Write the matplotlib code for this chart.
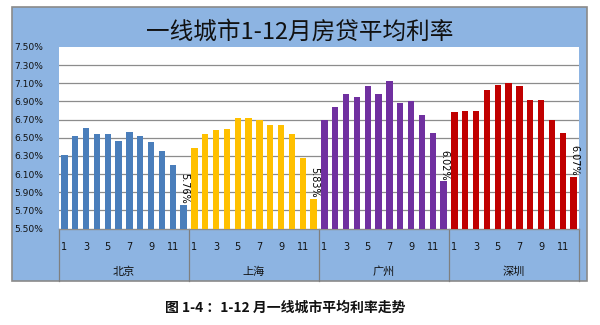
import matplotlib
matplotlib.use("Agg")
import matplotlib.pyplot as plt
from matplotlib.patches import Rectangle
import matplotlib.transforms as mtransforms

plt.rcParams['font.family'] = ['DejaVu Sans', 'Noto Sans CJK SC']

cities = ["北京", "上海", "广州", "深圳"]
months = list(range(1, 13))
beijing = [6.31, 6.52, 6.61, 6.54, 6.54, 6.46, 6.56, 6.52, 6.45, 6.35, 6.20, 5.76]
shanghai = [6.39, 6.54, 6.58, 6.60, 6.72, 6.72, 6.70, 6.64, 6.64, 6.54, 6.28, 5.83]
guangzhou = [6.70, 6.84, 6.98, 6.95, 7.07, 6.98, 7.12, 6.88, 6.90, 6.75, 6.55, 6.02]
shenzhen = [6.78, 6.80, 6.79, 7.03, 7.08, 7.10, 7.07, 6.92, 6.92, 6.70, 6.55, 6.07]
series = [beijing, shanghai, guangzhou, shenzhen]
colors = ["#4A7EBB", "#FFC000", "#7030A0", "#C00000"]
yticks = [5.5, 5.7, 5.9, 6.1, 6.3, 6.5, 6.7, 6.9, 7.1, 7.3, 7.5]
title = "一线城市1-12月房贷平均利率"
caption = "图 1-4 ：1-12 月一线城市平均利率走势"

W, H = 600, 325
fig = plt.figure(figsize=(6, 3.25), dpi=100)
fig.patch.set_facecolor("white")

panel_bg = "#8DB4E2"
fig.patches.append(Rectangle((12 / W, 1 - 281 / H), (587 - 12) / W, (281 - 7) / H,
                             transform=fig.transFigure, facecolor=panel_bg,
                             edgecolor="#8a8a8a", linewidth=1.2, zorder=0))

left, right, top, bottom = 59, 579, 47, 228.5
ax = fig.add_axes([left / W, 1 - bottom / H, (right - left) / W, (bottom - top) / H])
ax.set_facecolor("white")
ax.set_zorder(1)

n = len(months)
for g, (vals, c) in enumerate(zip(series, colors)):
    xs = [g * n + i for i in range(n)]
    ax.bar(xs, [v - 5.5 for v in vals], bottom=5.5, width=0.58, color=c, zorder=3)
    ax.text(xs[-1] + 0.05, vals[-1] + 0.012, f"{vals[-1]:.2f}%", rotation=-90,
            ha="center", va="bottom", fontsize=7, color="black", zorder=4)

ax.set_xlim(-0.5, 4 * n - 0.5)
ax.set_ylim(5.5, 7.5)
ax.set_yticks(yticks)
ax.set_yticklabels([f"{v:.2f}%" for v in yticks], fontsize=6.6, color="#111111")
ax.tick_params(axis="y", length=0, pad=11.5)
ax.set_xticks([])
for v in yticks[1:-1]:
    ax.axhline(v, color="#8c8c8c", linewidth=0.9, zorder=1)
for s in ["left", "right", "top"]:
    ax.spines[s].set_visible(False)
ax.spines["bottom"].set_color("#8c8c8c")
ax.spines["bottom"].set_linewidth(1)

trans = mtransforms.blended_transform_factory(ax.transData, ax.transAxes)
ah = bottom - top
y_num = -(247.2 - bottom) / ah
y_city = -(272 - bottom) / ah
y_end = -(281 - bottom) / ah
for g, city in enumerate(cities):
    for i, m in enumerate(months):
        if m % 2 == 1:
            ax.text(g * n + i, y_num, str(m), transform=trans, ha="center", va="center",
                    fontsize=7, color="#111111", clip_on=False)
    ax.text(g * n + (n - 1) / 2, y_city, city, transform=trans, ha="center", va="center",
            fontsize=8, color="#111111", family=["Noto Sans CJK SC"], clip_on=False)
for g in range(5):
    ax.plot([g * n - 0.5, g * n - 0.5], [0, y_end], transform=trans, color="#7f7f7f",
            linewidth=0.9, clip_on=False, zorder=2)

fig.text(299.5 / W, 1 - 32 / H, title, ha="center", va="center", fontsize=17,
         color="#111111", family=["Noto Sans CJK SC", "DejaVu Sans"])
fig.text(285.5 / W, 1 - 308 / H, caption, ha="center", va="center", fontsize=10,
         fontweight="bold", color="#111111", family=["Noto Sans CJK SC", "DejaVu Sans"])

fig.savefig("out.png", dpi=100)
